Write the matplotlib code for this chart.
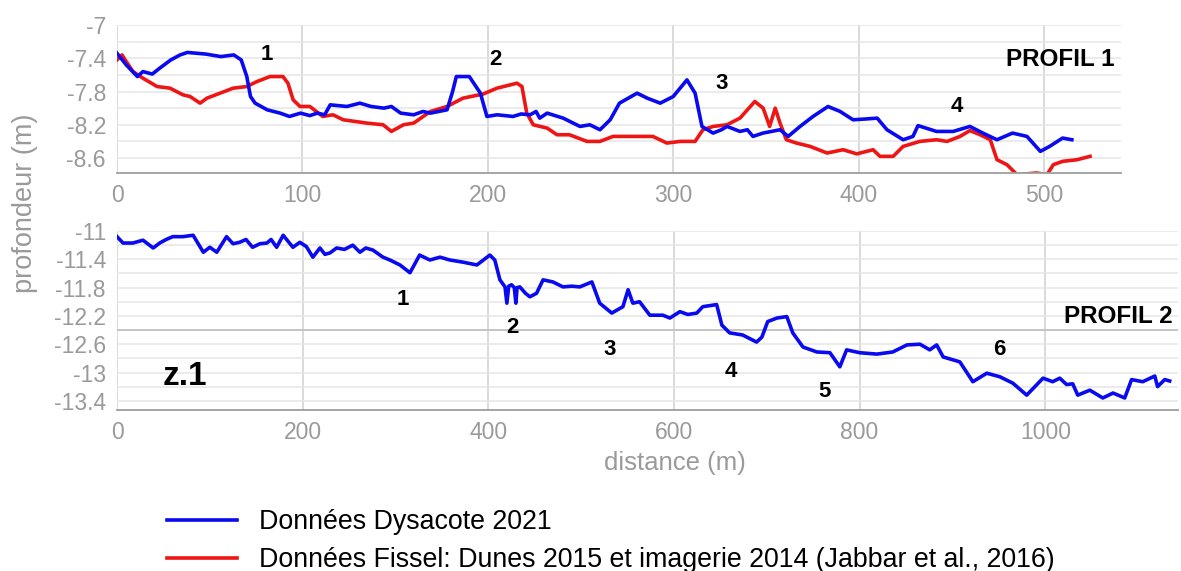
import matplotlib
matplotlib.use("Agg")
import matplotlib.pyplot as plt

plt.rcParams['font.family'] = ['Liberation Sans', 'DejaVu Sans']

# profil 1 - Dysacote 2021 (blue)
p1_dys_x = [0, 5, 11, 14, 19, 23, 29, 34, 38, 48, 56, 63, 67, 70, 72, 74.5, 81, 88, 93, 99,
            104, 108, 112, 115, 124, 131, 137, 144, 148, 153, 160, 165, 169, 178, 181, 183, 190,
            196, 199.5, 205, 213.6, 218, 222.8, 226, 228, 232, 240.6, 249.7, 255, 260.5, 266,
            271, 280.5, 286, 293, 300, 307.4, 311.8, 315.5, 321.5, 326, 329, 336, 340, 343,
            348.4, 357.6, 362, 368.4, 375.4, 383.5, 390, 397, 404, 410, 415.3, 424, 429.3, 432,
            442, 451, 460, 467, 474.6, 483, 490.8, 498, 503, 510, 515]
p1_dys_y = [-7.34, -7.48, -7.62, -7.56, -7.59, -7.52, -7.42, -7.36, -7.33, -7.35, -7.38, -7.36,
            -7.42, -7.62, -7.86, -7.94, -8.02, -8.06, -8.10, -8.06, -8.09, -8.06, -8.08, -7.96,
            -7.98, -7.94, -7.98, -8.00, -7.98, -8.06, -8.08, -8.04, -8.06, -8.02, -7.80, -7.62,
            -7.62, -7.82, -8.10, -8.08, -8.10, -8.07, -8.08, -8.04, -8.12, -8.06, -8.12, -8.22,
            -8.20, -8.26, -8.14, -7.94, -7.82, -7.88, -7.94, -7.86, -7.66, -7.82, -8.22, -8.30,
            -8.26, -8.22, -8.28, -8.26, -8.34, -8.30, -8.26, -8.34, -8.22, -8.10, -7.98, -8.04,
            -8.14, -8.13, -8.12, -8.26, -8.38, -8.34, -8.21, -8.28, -8.28, -8.22, -8.30, -8.38,
            -8.30, -8.34, -8.52, -8.46, -8.36, -8.38]

# profil 1 - Fissel (red)
p1_fis_x = [0, 2.7, 5, 8.6, 14, 21.6, 28.6, 35.6, 39.4, 44.8, 48.5, 55.6, 62.6, 70, 75.5, 82.5,
            89.5, 92.2, 95, 98.7, 104, 111, 116.5, 122, 134.8, 143.5, 148, 154.5, 160, 169, 178,
            186.6, 197.5, 204.9, 215.7, 218.4, 221, 224.5, 232, 237.3, 244, 253.5, 260.5, 267.5,
            278.3, 289, 296.6, 303.7, 311.8, 316, 321.5, 329, 336, 344, 348.5, 352, 355, 357.6,
            361, 366.5, 373.8, 383, 391.6, 399, 407.8, 411.5, 418.6, 424, 433, 442, 447.7, 454.7,
            460, 465.5, 471, 474.6, 480, 485.4, 496, 501.6, 505, 510, 517.8, 524.8]
p1_fis_y = [-7.42, -7.36, -7.44, -7.56, -7.64, -7.74, -7.76, -7.84, -7.86, -7.94, -7.88, -7.82,
            -7.76, -7.74, -7.68, -7.62, -7.62, -7.70, -7.90, -7.98, -7.98, -8.10, -8.08, -8.14,
            -8.18, -8.20, -8.28, -8.20, -8.18, -8.04, -7.98, -7.88, -7.83, -7.76, -7.70, -7.74,
            -8.06, -8.20, -8.24, -8.32, -8.32, -8.40, -8.40, -8.34, -8.34, -8.34, -8.42, -8.40,
            -8.40, -8.26, -8.22, -8.20, -8.12, -7.92, -8.00, -8.22, -8.00, -8.18, -8.38, -8.42,
            -8.46, -8.54, -8.50, -8.55, -8.50, -8.58, -8.58, -8.46, -8.40, -8.38, -8.40, -8.34,
            -8.27, -8.32, -8.38, -8.62, -8.68, -8.80, -8.78, -8.80, -8.68, -8.64, -8.62, -8.58]

# profil 2 - Dysacote 2021 (blue)
p2_dys_x = [0, 6.5, 17, 28, 39, 46, 53, 60, 71, 82, 93, 100, 107.5, 118, 125, 132, 139, 146, 154,
            161.5, 166, 172, 179, 189.5, 197, 204, 211, 218.6, 224, 229.4, 236.6, 245, 254, 261.7,
            268, 275.7, 286.5, 294, 304.8, 315.6, 326, 337, 348, 358.6, 372.6, 387.7, 401.7, 407,
            412.5, 418, 420, 422, 425, 428, 429.7, 431, 434, 440, 444.8, 452, 459, 469.6, 480.4,
            490, 498.6, 511.6, 520, 533, 545, 550.6, 555.7, 563, 574, 588, 595.6, 606.4, 615,
            624.6, 631, 646, 651.6, 660, 674, 689, 694.7, 701, 711, 721.6, 728, 739, 754, 768,
            778.7, 786, 800, 818.5, 835.7, 851, 865, 875.6, 883, 890, 908, 922, 937, 951, 965,
            980, 991, 997.6, 1008, 1015.6, 1023, 1029.6, 1035, 1048, 1062, 1073, 1085.6, 1093,
            1105, 1118, 1121, 1128.7, 1134]
p2_dys_y = [-11.08, -11.17, -11.17, -11.13, -11.24, -11.17, -11.12, -11.08, -11.08, -11.06,
            -11.30, -11.23, -11.30, -11.08, -11.18, -11.16, -11.12, -11.23, -11.18, -11.17,
            -11.12, -11.23, -11.06, -11.23, -11.16, -11.22, -11.37, -11.24, -11.33, -11.31,
            -11.24, -11.26, -11.20, -11.30, -11.24, -11.27, -11.37, -11.41, -11.48, -11.59,
            -11.34, -11.41, -11.37, -11.41, -11.44, -11.48, -11.34, -11.41, -11.69, -11.79,
            -12.02, -11.78, -11.76, -11.80, -12.02, -11.80, -11.79, -11.88, -11.93, -11.88,
            -11.69, -11.72, -11.79, -11.78, -11.79, -11.72, -12.02, -12.16, -12.07, -11.83,
            -12.02, -12.00, -12.19, -12.19, -12.23, -12.14, -12.18, -12.16, -12.07, -12.04,
            -12.33, -12.44, -12.47, -12.57, -12.50, -12.28, -12.23, -12.21, -12.44, -12.64,
            -12.71, -12.72, -12.92, -12.68, -12.72, -12.74, -12.71, -12.61, -12.60, -12.68,
            -12.61, -12.78, -12.85, -13.13, -13.01, -13.06, -13.15, -13.32, -13.17, -13.08,
            -13.13, -13.08, -13.17, -13.16, -13.32, -13.25, -13.36, -13.29, -13.36, -13.10,
            -13.13, -13.05, -13.20, -13.10, -13.12]

p1_yticks = [-7, -7.4, -7.8, -8.2, -8.6]
p1_ylabels = ["-7", "-7.4", "-7.8", "-8.2", "-8.6"]
p1_xticks = [0, 100, 200, 300, 400, 500]
p2_yticks = [-11, -11.4, -11.8, -12.2, -12.6, -13, -13.4]
p2_ylabels = ["-11", "-11.4", "-11.8", "-12.2", "-12.6", "-13", "-13.4"]
p2_xticks = [0, 200, 400, 600, 800, 1000]

p1_marks = [("1", 81, -7.36), ("2", 204, -7.42), ("3", 326, -7.70), ("4", 453, -7.98)]
p2_marks = [("1", 308, -11.97), ("2", 426, -12.37), ("3", 531, -12.68), ("4", 661, -12.99),
            ("5", 762, -13.27), ("6", 950, -12.68)]

BLUE = "#0a0af0"
RED = "#ee1515"
TICK = "#9a9a9a"

fig = plt.figure(figsize=(11.81, 5.71), dpi=100)
ax1 = fig.add_axes([117/1181, 1-173/571, (1121-117)/1181, (173-25)/571])
ax2 = fig.add_axes([117/1181, 1-410/571, (1178-117)/1181, (410-231)/571])


def style(ax, xticks, yticks, ylabels, step):
    ax.set_xticks(xticks)
    ax.set_xticklabels([str(t) for t in xticks])
    ax.set_yticks(yticks)
    ax.set_yticklabels(ylabels)
    lo, hi = ax.get_ylim()
    minor = []
    v = yticks[0] - step
    while v > lo:
        minor.append(round(v, 2))
        v -= step
    ax.set_yticks(minor, minor=True)
    ax.tick_params(length=0, labelsize=16.5, colors=TICK, pad=8)
    ax.tick_params(which='minor', length=0)
    for s in ['top', 'right', 'left']:
        ax.spines[s].set_visible(False)
    ax.spines['bottom'].set_color('#9e9e9e')
    ax.spines['bottom'].set_linewidth(1.3)
    ax.grid(axis='y', which='both', color='#e6e6e6', lw=1.1)
    ax.grid(axis='x', which='major', color='#d0d0d0', lw=1.1)
    ax.set_axisbelow(True)


ax1.set_xlim(0, 541.5)
ax1.set_ylim(-8.78, -7)
ax1.plot(p1_dys_x, p1_dys_y, color=BLUE, lw=2.6, label="Données Dysacote 2021", zorder=3)
ax1.plot(p1_fis_x, p1_fis_y, color=RED, lw=2.6,
         label="Données Fissel: Dunes 2015 et imagerie 2014 (Jabbar et al., 2016)", zorder=2)
style(ax1, p1_xticks, p1_yticks, p1_ylabels, 0.2)
for t, x, y in p1_marks:
    ax1.text(x, y, t, fontsize=16, fontweight='bold', ha='center', va='center')
ax1.text(538, -7.42, "PROFIL 1", fontsize=17.5, fontweight='bold', ha='right', va='center')

ax2.set_xlim(0, 1143)
ax2.set_ylim(-13.53, -11)
ax2.plot(p2_dys_x, p2_dys_y, color=BLUE, lw=2.6, zorder=3)
style(ax2, p2_xticks, p2_yticks, p2_ylabels, 0.2)
ax2.axhline(-12.4, color='#c2c2c2', lw=1.3, zorder=1)
for t, x, y in p2_marks:
    ax2.text(x, y, t, fontsize=16, fontweight='bold', ha='center', va='center')
ax2.text(1137, -12.21, "PROFIL 2", fontsize=17.5, fontweight='bold', ha='right', va='center')
ax2.text(73, -13.06, "z.1", fontsize=24, fontweight='bold', ha='center', va='center')

fig.text(25/1181, 1-203/571, "profondeur (m)", rotation=90, fontsize=19.5, color=TICK,
         ha='center', va='center')
fig.text(675/1181, 1-463/571, "distance (m)", fontsize=18.5, color=TICK,
         ha='center', va='center')

h, l = ax1.get_legend_handles_labels()
fig.legend(h, l, loc='upper left', bbox_to_anchor=(167/1181, 1-509/571), frameon=False,
           fontsize=19.3, handlelength=2.6, handletextpad=0.85, labelspacing=0.45,
           borderpad=0, borderaxespad=0)

fig.savefig("out.png", dpi=100)
